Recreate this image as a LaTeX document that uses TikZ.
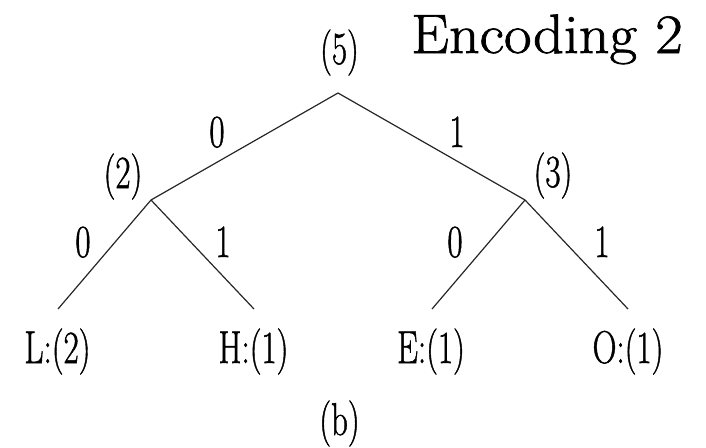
\documentclass[tikz,border=0pt]{standalone}
\usepackage{fontspec}
\newfontfamily\lmfat{Latin Modern Roman}[FakeBold=1.2]
\begin{document}
\begin{tikzpicture}[x=1pt,y=-1pt,
  edge/.style={draw=black!85,line width=1.2pt},
  lbl/.style={anchor=base,inner sep=0pt,xscale=0.72,font=\lmfat\fontsize{46}{46}\selectfont},
  title/.style={anchor=base,inner sep=0pt,xscale=1.08,font=\lmfat\fontsize{55.6}{56}\selectfont}]
\useasboundingbox (0,0) rectangle (706,447);
% tree vertices
\coordinate (r) at (338,93);
\coordinate (n2) at (151,200);
\coordinate (n3) at (525,200);
\coordinate (la) at (58,309);
\coordinate (lh) at (254,309);
\coordinate (le) at (432,309);
\coordinate (lo) at (628,309);
% edges
\draw[edge] (r) -- (n2);
\draw[edge] (r) -- (n3);
\draw[edge] (n2) -- (la);
\draw[edge] (n2) -- (lh);
\draw[edge] (n3) -- (le);
\draw[edge] (n3) -- (lo);
% weights
\node[lbl] (w5) at (339.5,64) {(5)};
\node[lbl] (w2) at (123,188) {(2)};
\node[lbl] (w3) at (553,187) {(3)};
% edge labels
\node[lbl] (e1) at (217,147) {0};
\node[lbl] (e2) at (457,147) {1};
\node[lbl] (e3) at (83,257) {0};
\node[lbl] (e4) at (223,257) {1};
\node[lbl] (e5) at (455,257) {0};
\node[lbl] (e6) at (602,257) {1};
% leaves
\node[lbl] (L) at (57.5,363) {L:(2)};
\node[lbl] (H) at (253.5,363) {H:(1)};
\node[lbl] (E) at (431,363) {E:(1)};
\node[lbl] (O) at (628,363) {O:(1)};
% caption and title
\node[lbl] (cap) at (339.5,435) {(b)};
\node[title] (ttl) at (547,53) {Encoding 2};
\end{tikzpicture}
\end{document}
